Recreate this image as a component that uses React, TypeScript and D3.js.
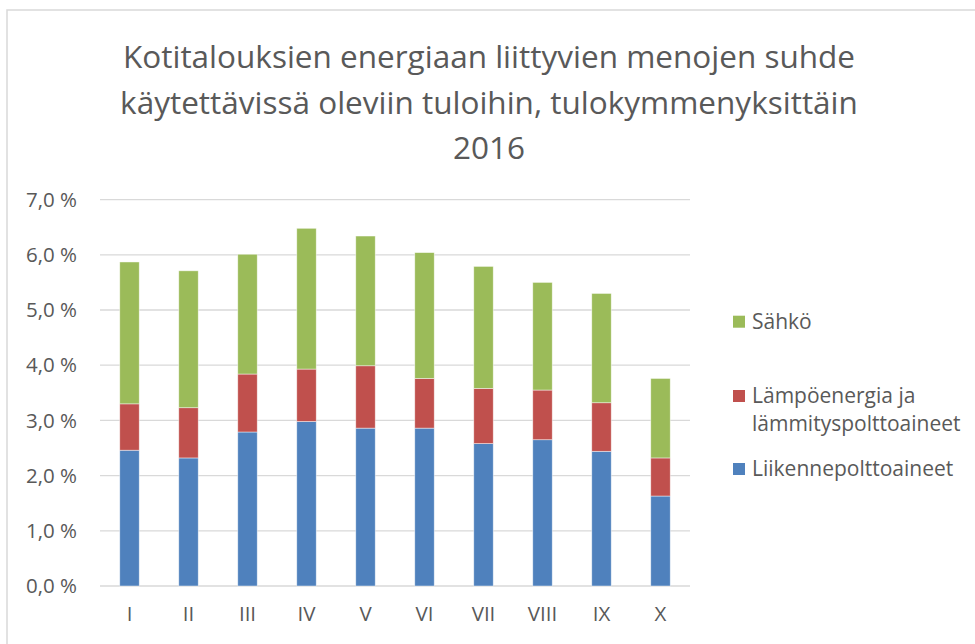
import { useMemo } from 'react';
import * as d3 from 'd3';

const DECILES = ['I', 'II', 'III', 'IV', 'V', 'VI', 'VII', 'VIII', 'IX', 'X'];

// % of disposable income
const LIIKENNE = [2.46, 2.32, 2.79, 2.98, 2.86, 2.86, 2.58, 2.65, 2.44, 1.63];
const LAMPO = [0.84, 0.91, 1.05, 0.95, 1.13, 0.9, 1.0, 0.9, 0.88, 0.69];
const SAHKO = [2.57, 2.48, 2.17, 2.55, 2.35, 2.28, 2.21, 1.95, 1.98, 1.44];

const Y_TICKS = [0, 1, 2, 3, 4, 5, 6, 7];

const SERIES = [
  { key: 'liikenne', label: ['Liikennepolttoaineet'], values: LIIKENNE, color: '#4F81BD' },
  { key: 'lampo', label: ['Lämpöenergia ja', 'lämmityspolttoaineet'], values: LAMPO, color: '#C0504D' },
  { key: 'sahko', label: ['Sähkö'], values: SAHKO, color: '#9BBB59' },
];

const TITLE = [
  'Kotitalouksien energiaan liittyvien menojen suhde',
  'käytettävissä oleviin tuloihin, tulokymmenyksittäin',
  '2016',
];

const WIDTH = 975;
const HEIGHT = 644;
const PLOT = { left: 100, right: 690, top: 199.6, bottom: 586 };
const FONT = '"Open Sans", "Noto Sans", sans-serif';
const TEXT = '#595959';

export default function App() {
  const { x, y, stacks } = useMemo(() => {
    const x = d3
      .scaleBand<string>()
      .domain(DECILES)
      .range([PLOT.left, PLOT.right])
      .paddingInner(0.67)
      .paddingOuter(0.335);
    const y = d3.scaleLinear().domain([0, 7]).range([PLOT.bottom, PLOT.top]);

    const rows = DECILES.map((d, i) => {
      const row: Record<string, number | string> = { decile: d };
      SERIES.forEach((s) => (row[s.key] = s.values[i]));
      return row;
    });
    const stacks = d3.stack<Record<string, number | string>>().keys(SERIES.map((s) => s.key))(rows);
    return { x, y, stacks };
  }, []);

  const fmt = (v: number) => `${v.toFixed(1).replace('.', ',')} %`;

  // legend rows, top to bottom
  const legendItems = [
    { s: SERIES[2], y: 321.7 },
    { s: SERIES[1], y: 396 },
    { s: SERIES[0], y: 469 },
  ];

  return (
    <svg
      width={WIDTH}
      height={HEIGHT}
      style={{ position: 'absolute', left: 0, top: 0, background: '#fff' }}
      fontFamily={FONT}
    >
      <rect x={0} y={0} width={WIDTH} height={HEIGHT} fill="#fff" />
      {/* chart frame */}
      <rect x={7} y={10} width={WIDTH + 20} height={HEIGHT + 20} fill="none" stroke="#D9D9D9" strokeWidth={1.5} />

      {/* Title */}
      {TITLE.map((t, i) => (
        <text
          key={i}
          x={489}
          y={57 + i * 45.5}
          textAnchor="middle"
          dy="0.35em"
          fontSize={31.5}
          fill={TEXT}
        >
          {t}
        </text>
      ))}

      {/* Gridlines and y labels */}
      {Y_TICKS.map((t) => (
        <g key={t}>
          <line x1={PLOT.left} x2={PLOT.right} y1={y(t)} y2={y(t)} stroke="#D9D9D9" strokeWidth={1.3} />
          <text x={77} y={y(t)} dy="0.35em" textAnchor="end" fontSize={20.5} fill={TEXT}>
            {fmt(t)}
          </text>
        </g>
      ))}

      {/* Stacked bars */}
      {stacks.map((layer, li) => (
        <g key={layer.key} fill={SERIES[li].color}>
          {layer.map((seg, i) => (
            <rect
              key={DECILES[i]}
              x={x(DECILES[i])}
              width={x.bandwidth()}
              y={y(seg[1])}
              height={y(seg[0]) - y(seg[1])}
              stroke="#fff"
              strokeOpacity={0.6}
              strokeWidth={0.75}
            />
          ))}
        </g>
      ))}

      {/* X labels */}
      {DECILES.map((d) => (
        <text
          key={d}
          x={(x(d) ?? 0) + x.bandwidth() / 2}
          y={614}
          dy="0.35em"
          textAnchor="middle"
          fontSize={20.5}
          fill={TEXT}
        >
          {d}
        </text>
      ))}

      {/* Legend */}
      {legendItems.map(({ s, y: ly }) => (
        <g key={s.key}>
          <rect x={733} y={ly - 6} width={12} height={12} fill={s.color} />
          {s.label.map((line, j) => (
            <text key={j} x={752} y={ly + j * 27.3} dy="0.35em" fontSize={21} fill={TEXT}>
              {line}
            </text>
          ))}
        </g>
      ))}
    </svg>
  );
}
